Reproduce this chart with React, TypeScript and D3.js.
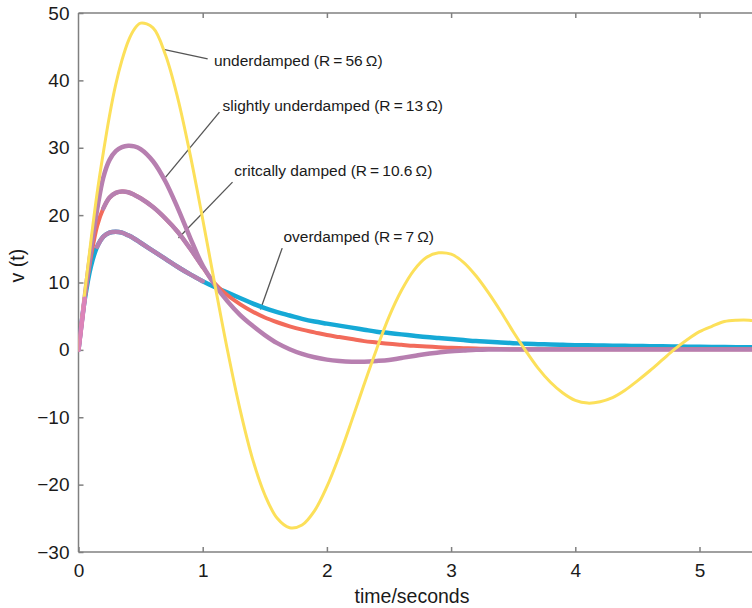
import React, { useRef, useEffect } from 'react';
import {
  select,
  line,
  curveCatmullRom,
  scaleLinear,
  axisBottom,
  axisLeft,
  axisTop,
} from 'd3';

// sample times (seconds)
const timeSec = [
  0, 0.05, 0.1, 0.15, 0.2, 0.25, 0.3, 0.35, 0.4, 0.45, 0.5,
  0.6, 0.7, 0.8, 0.9, 1.0,
  1.1, 1.2, 1.3, 1.4, 1.5, 1.6, 1.7, 1.8, 1.9, 2.0,
  2.1, 2.2, 2.3, 2.4, 2.5, 2.6, 2.7, 2.8, 2.9, 3.0,
  3.1, 3.2, 3.3, 3.4, 3.5, 3.6, 3.7, 3.8, 3.9, 4.0,
  4.1, 4.2, 4.3, 4.4, 4.5, 4.6, 4.7, 4.8, 4.9, 5.0,
  5.1, 5.2, 5.3, 5.4, 5.5,
];

// v(t)
const underdamped = [
  0, 8.5, 16.2, 23.3, 29.3, 34.8, 39.4, 43.0, 45.8, 47.6, 48.5,
  47.8, 43.8, 37.3, 28.9, 19.4,
  9.5, -0.1, -8.8, -16.1, -21.5, -25.0, -26.4, -26.0, -23.9, -20.3,
  -15.7, -10.5, -5.1, 0.1, 4.9, 8.8, 11.8, 13.7, 14.4, 14.2,
  13.0, 11.0, 8.5, 5.7, 2.7, -0.1, -2.7, -4.8, -6.4, -7.5,
  -7.9, -7.7, -7.1, -6.0, -4.6, -3.1, -1.5, 0.1, 1.5, 2.7,
  3.5, 4.2, 4.4, 4.4, 4.1,
];
const slightlyUnderdamped = [
  0, 7.8, 14.8, 20.8, 25.6, 28.2, 29.5, 30.1, 30.3, 30.2, 29.8,
  28.0, 25.0, 21.0, 16.6, 12.5,
  9.6, 7.2, 5.2, 3.6, 2.2, 1.0, 0.1, -0.6, -1.1, -1.45,
  -1.65, -1.75, -1.75, -1.65, -1.5, -1.2, -0.9, -0.6, -0.4, -0.2,
  -0.1, 0, 0.05, 0.05, 0.05, 0.05, 0.05, 0.05, 0.05, 0.05,
  0.05, 0.05, 0.05, 0.05, 0.05, 0.05, 0.05, 0.05, 0.05, 0.05,
  0.05, 0.05, 0.05, 0.05, 0.05,
];
const criticallyDamped = [
  0, 7.6, 13.8, 18.4, 21.0, 22.6, 23.3, 23.5, 23.4, 23.0, 22.5,
  21.2, 19.5, 17.5, 15.0, 12.3,
  9.8, 8.1, 6.8, 5.7, 4.8, 4.1, 3.5, 3.0, 2.6, 2.2,
  1.9, 1.6, 1.3, 1.1, 0.9, 0.75, 0.6, 0.5, 0.4, 0.3,
  0.25, 0.2, 0.15, 0.12, 0.1, 0.1, 0.1, 0.1, 0.1, 0.1,
  0.1, 0.1, 0.1, 0.1, 0.1, 0.1, 0.1, 0.1, 0.1, 0.1,
  0.1, 0.1, 0.1, 0.1, 0.1,
];
const overdamped = [
  0, 7.4, 12.4, 15.3, 16.8, 17.4, 17.55, 17.4, 17.0, 16.5, 15.9,
  14.7, 13.5, 12.3, 11.2, 10.2,
  9.3, 8.5, 7.7, 6.9, 6.2, 5.6, 5.1, 4.6, 4.2, 3.9,
  3.6, 3.3, 3.0, 2.7, 2.5, 2.3, 2.1, 1.9, 1.75, 1.6,
  1.45, 1.3, 1.2, 1.1, 1.0, 0.9, 0.85, 0.8, 0.75, 0.7,
  0.68, 0.65, 0.62, 0.6, 0.57, 0.55, 0.52, 0.5, 0.48, 0.46,
  0.44, 0.42, 0.4, 0.38, 0.36,
];

const xTicks = [0, 1, 2, 3, 4, 5];
const yTicks = [50, 40, 30, 20, 10, 0, -10, -20, -30];

// callouts: text, pointer start (on curve), pointer end, text anchor (data units)
const callouts = [
  { text: 'underdamped (R\u2009=\u200956\u2009Ω)', from: [0.684, 44.6], to: [1.04, 43.2], at: [1.09, 43.0] },
  { text: 'slightly underdamped (R\u2009=\u200913\u2009Ω)', from: [0.7, 25.6], to: [1.135, 35.3], at: [1.16, 36.3] },
  { text: 'critcally damped (R\u2009=\u200910.6\u2009Ω)', from: [0.805, 16.6], to: [1.24, 24.9], at: [1.255, 26.7] },
  { text: 'overdamped (R\u2009=\u20097\u2009Ω)', from: [1.465, 6.0], to: [1.64, 15.1], at: [1.65, 16.8] },
];

const FONT = '"Liberation Sans", Arial, Helvetica, sans-serif';

const DampingChart = () => {
  const svgRef = useRef(null);

  useEffect(() => {
    const svg = select(svgRef.current);
    svg.selectAll('*').remove();

    const left = 78.5;
    const top = 13;
    const bottom = 552;
    const pxPerSec = 124.2;

    // scales
    const x = scaleLinear().domain([0, 5.5]).range([left, left + 5.5 * pxPerSec]);
    const y = scaleLinear().domain([-30, 50]).range([bottom, top]);
    const right = x(5.5);

    // frame
    const frame = svg.append('g').attr('stroke', '#808080').attr('stroke-width', 1.5).attr('fill', 'none');
    frame.append('line').attr('x1', left).attr('x2', left).attr('y1', top).attr('y2', bottom);
    frame.append('line').attr('x1', left).attr('x2', right).attr('y1', top).attr('y2', top);
    frame.append('line').attr('x1', left).attr('x2', right).attr('y1', bottom).attr('y2', bottom);

    // axes
    const xAxis = axisBottom(x).tickValues(xTicks).tickSize(-5).tickPadding(12).tickFormat((d) => String(d));
    const gx = svg.append('g').attr('transform', `translate(0,${bottom})`).call(xAxis);
    const xTop = axisTop(x).tickValues(xTicks.slice(1)).tickSize(-5).tickFormat(() => '');
    const gt = svg.append('g').attr('transform', `translate(0,${top})`).call(xTop);
    const yAxis = axisLeft(y).tickValues(yTicks).tickSize(-5).tickPadding(9);
    const gy = svg.append('g').attr('transform', `translate(${left},0)`).call(yAxis);

    [gx, gt, gy].forEach((g) => {
      g.select('.domain').remove();
      g.selectAll('.tick line').attr('stroke', '#808080').attr('stroke-width', 1.5);
      g.selectAll('.tick text')
        .attr('fill', '#1a1a1a')
        .style('font-family', FONT)
        .style('font-size', '19px');
    });
    gt.selectAll('.tick line').filter((d) => x(d) > 752).remove();

    // axis titles
    svg.append('text')
      .attr('x', 412)
      .attr('y', 603)
      .attr('text-anchor', 'middle')
      .attr('fill', '#1a1a1a')
      .style('font-family', FONT)
      .style('font-size', '19.5px')
      .text('time/seconds');
    svg.append('text')
      .attr('transform', `translate(24,${y(12.5)}) rotate(-90)`)
      .attr('text-anchor', 'middle')
      .attr('fill', '#1a1a1a')
      .style('font-family', FONT)
      .style('font-size', '19.5px')
      .text('v (t)');

    // callouts
    const notes = svg.append('g');
    callouts.forEach((c) => {
      notes.append('line')
        .attr('x1', x(c.from[0])).attr('y1', y(c.from[1]))
        .attr('x2', x(c.to[0])).attr('y2', y(c.to[1]))
        .attr('stroke', '#555')
        .attr('stroke-width', 1.3);
      notes.append('text')
        .attr('x', x(c.at[0]))
        .attr('y', y(c.at[1]))
        .attr('dy', '0.36em')
        .attr('fill', '#1a1a1a')
        .style('font-family', FONT)
        .style('font-size', '15.5px')
        .text(c.text);
    });

    // curves
    svg.append('clipPath').attr('id', 'plot-clip')
      .append('rect').attr('x', left).attr('y', top).attr('width', right - left).attr('height', bottom - top);
    const plot = svg.append('g').attr('clip-path', 'url(#plot-clip)');

    const toPts = (vals, t0 = -1, t1 = 99) =>
      timeSec.map((t, i) => [t, vals[i]]).filter(([t]) => t >= t0 - 1e-9 && t <= t1 + 1e-9);

    const path = line()
      .x((d) => x(d[0]))
      .y((d) => y(d[1]))
      .curve(curveCatmullRom.alpha(0.5));

    const draw = (pts, color, width) =>
      plot.append('path')
        .attr('d', path(pts))
        .attr('fill', 'none')
        .attr('stroke', color)
        .attr('stroke-width', width)
        .attr('stroke-linecap', 'round')
        .attr('stroke-linejoin', 'round');

    const purple = '#b77fb0';
    draw(toPts(overdamped), '#16a9d6', 4.5);
    draw(toPts(criticallyDamped), '#f26b5b', 4);
    draw(toPts(overdamped, 0.15, 1.0), purple, 4.5);
    draw(toPts(criticallyDamped, 0.2, 1.0), purple, 4.5);
    draw(toPts(slightlyUnderdamped), purple, 4.5);
    draw(toPts(underdamped), '#fce05a', 3);
    draw(toPts(criticallyDamped, 0, 0.05), '#dc83b9', 4.5);
  }, []);

  return <svg ref={svgRef} width={752} height={608} style={{ display: 'block' }}></svg>;
};

export default function App() {
  return (
    <div style={{ position: 'absolute', left: 0, top: 0, background: '#fff' }}>
      <DampingChart />
    </div>
  );
}
